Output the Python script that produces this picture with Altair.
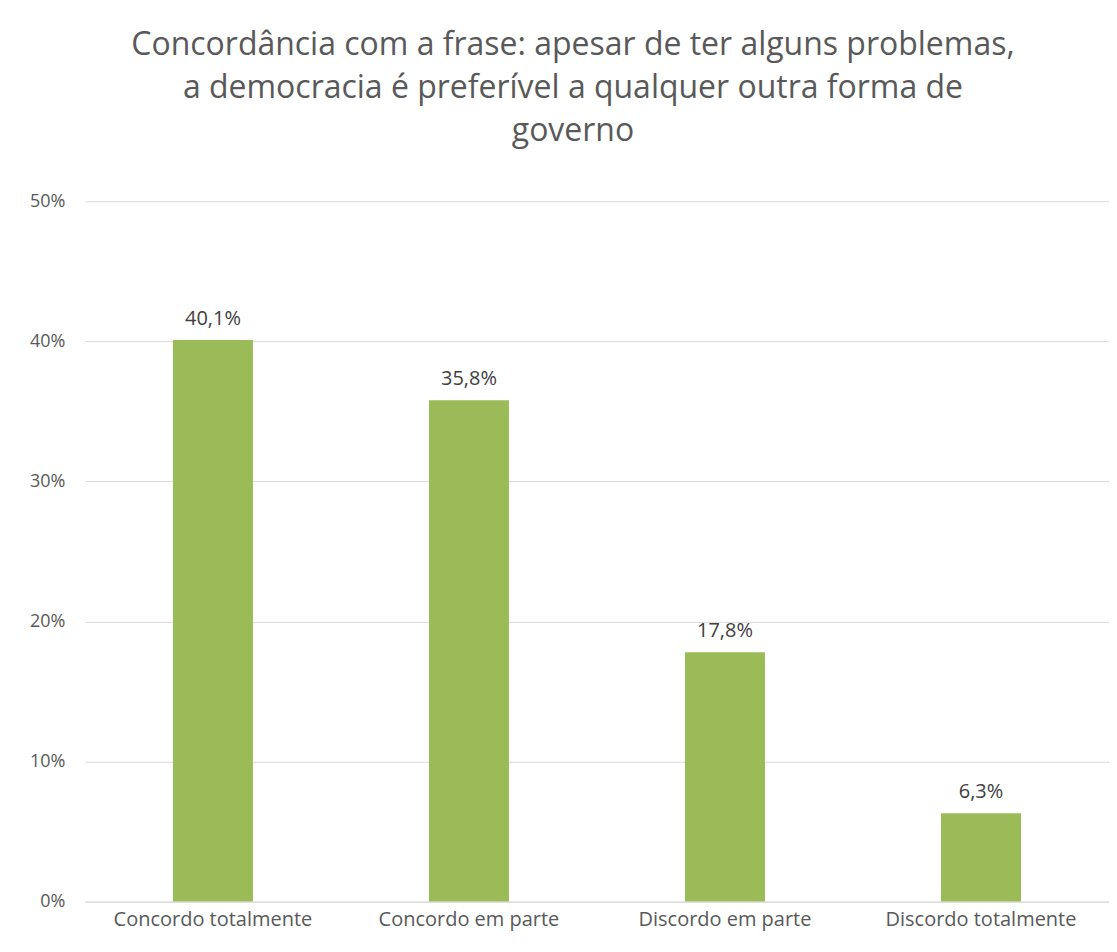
import altair as alt
import pandas as pd

categories = ["Concordo totalmente", "Concordo em parte", "Discordo em parte", "Discordo totalmente"]
values = [40.1, 35.8, 17.8, 6.3]
labels = [f"{v:.1f}%".replace(".", ",") for v in values]

df = pd.DataFrame({"cat": categories, "val": [v / 100 for v in values], "lab": labels})

FONT = "Open Sans"

base = alt.Chart(df).encode(
    x=alt.X("cat:N", sort=categories, title=None,
            scale=alt.Scale(paddingInner=0.6875, paddingOuter=0.34375),
            axis=alt.Axis(labelAngle=0, labelFontSize=20, labelColor="#595959",
                          labelFont=FONT, ticks=False, domainColor="#d9d9d9",
                          labelPadding=8, labelLimit=400, grid=False)),
    y=alt.Y("val:Q", title=None,
            scale=alt.Scale(domain=[0, 0.5]),
            axis=alt.Axis(format=".0%", values=[0, 0.1, 0.2, 0.3, 0.4, 0.5],
                          labelFontSize=18, labelColor="#595959", labelFont=FONT,
                          ticks=False, domain=False, gridColor="#d9d9d9",
                          labelPadding=20)),
)

bars = base.mark_bar(color="#9bbb59")
text = base.mark_text(dy=-21, fontSize=20, color="#404040", font=FONT).encode(text="lab:N")

chart = (bars + text).properties(
    width=1025, height=701,
    title=alt.TitleParams(
        ["Concordância com a frase: apesar de ter alguns problemas,",
         "a democracia é preferível a qualquer outra forma de",
         "governo"],
        fontSize=32, font=FONT, fontWeight="normal", color="#595959",
        lineHeight=43, anchor="middle", offset=44, dx=-24),
    autosize=alt.AutoSizeParams(type="none"),
    padding={"left": 77, "top": 193, "right": 0, "bottom": 40},
    background="white",
).configure_view(stroke=None)

chart.save("out.html", embed_options={"renderer": "svg", "actions": False})
